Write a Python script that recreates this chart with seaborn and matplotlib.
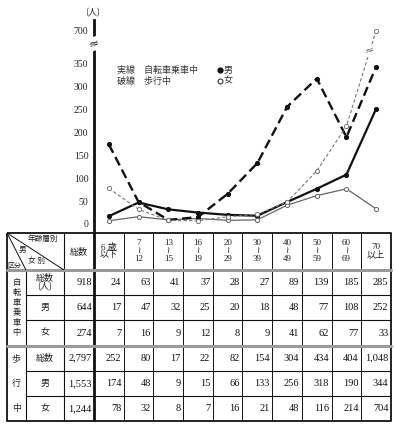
import numpy as np
import pandas as pd
import matplotlib
matplotlib.use("Agg")
import matplotlib.pyplot as plt
import matplotlib.transforms as mtransforms
import seaborn as sns

age_labels = ["6 歳\n以下", "7\n≀\n12", "13\n≀\n15", "16\n≀\n19", "20\n≀\n29",
              "30\n≀\n39", "40\n≀\n49", "50\n≀\n59", "60\n≀\n69", "70\n以上"]

bike_total = [24, 63, 41, 37, 28, 27, 89, 139, 185, 285]
bike_male = [17, 47, 32, 25, 20, 18, 48, 77, 108, 252]
bike_female = [7, 16, 9, 12, 8, 9, 41, 62, 77, 33]
walk_total = [252, 80, 17, 22, 82, 154, 304, 434, 404, 1048]
walk_male = [174, 48, 9, 15, 66, 133, 256, 318, 190, 344]
walk_female = [78, 32, 8, 7, 16, 21, 48, 116, 214, 704]

sum_labels = ["918", "644", "274", "2,797", "1,553", "1,244"]
row_labels = ["総数\n(人)", "男", "女", "総数", "男", "女"]
y_ticks = [0, 50, 100, 150, 200, 250, 300, 350, 700]


def fwd(v):
    v = np.asarray(v, dtype=float)
    return np.where(v <= 380, v, 380 + (v - 380) * 0.132)


def inv(u):
    u = np.asarray(u, dtype=float)
    return np.where(u <= 380, u, 380 + (u - 380) / 0.132)


sns.set_style("white")
plt.rcParams["font.family"] = ["Liberation Serif", "Noto Sans CJK JP", "DejaVu Sans"]

W, H = 394, 428
fig = plt.figure(figsize=(W / 100, H / 100), dpi=100)

# full-figure pixel canvas for the table
cv = fig.add_axes([0, 0, 1, 1], zorder=0)
cv.set_xlim(0, W)
cv.set_ylim(H, 0)
cv.axis("off")

# chart axes, aligned with the age columns of the table
ax_l, ax_r, ax_t, ax_b = 94, 391, 20, 232
ax = fig.add_axes([ax_l / W, (H - ax_b) / H, (ax_r - ax_l) / W, (ax_b - ax_t) / H], zorder=2)
ax.set_facecolor("none")
ax.set_yscale("function", functions=(fwd, inv))

series = [
    (bike_male, dict(color="#111111", linewidth=1.6, linestyle="-", markerfacecolor="#111111")),
    (bike_female, dict(color="#666666", linewidth=0.9, linestyle="-", markerfacecolor="white")),
    (walk_male, dict(color="#111111", linewidth=1.7, linestyle=(0, (4, 2)), markerfacecolor="#111111")),
    (walk_female, dict(color="#777777", linewidth=0.8, linestyle=(0, (3, 2)), markerfacecolor="white")),
]
x_idx = np.arange(len(age_labels))
for vals, kw in series:
    df = pd.DataFrame({"age": x_idx, "count": vals})
    sns.lineplot(data=df, x="age", y="count", ax=ax, marker="o", markersize=3,
                 markeredgecolor=kw["color"], markeredgewidth=0.7, **kw)

ax.set_xlim(-0.5, len(age_labels) - 0.5)
ax.set_ylim(-17.5, float(inv(446)))
ax.set(xlabel="", ylabel="")
ax.set_xticks([])
ax.set_yticks(y_ticks)
ax.set_yticklabels([str(t) for t in y_ticks])
ax.yaxis.set_minor_locator(matplotlib.ticker.NullLocator())
ax.tick_params(axis="y", length=3, width=0.8, pad=1, labelsize=7, color="#222222")
for s in ["top", "right", "bottom"]:
    ax.spines[s].set_visible(False)
ax.spines["left"].set_linewidth(2)
ax.spines["left"].set_color("#111111")

# axis break and line break marks
bt = mtransforms.blended_transform_factory(ax.transAxes, ax.transData)
ax.text(0, float(inv(394)), "≈", transform=bt, ha="center", va="center", fontsize=9,
        family="DejaVu Sans", rotation=20, zorder=5,
        bbox=dict(facecolor="white", edgecolor="none", pad=0.2))
u0, u1 = float(fwd(walk_female[8])), float(fwd(walk_female[9]))
ax.text(8.79, float(inv(u0 + 0.79 * (u1 - u0))), "≈", ha="center", va="center", fontsize=8,
        family="DejaVu Sans", rotation=20, color="#555555", zorder=5,
        bbox=dict(facecolor="white", edgecolor="none", pad=0.1))

cv.text(93, 13, "(人)", ha="center", va="center", fontsize=6.5, family="Noto Sans CJK JP")

# legend as text
lg = dict(fontsize=6.5, family="Noto Sans CJK JP", color="#333333", va="center")
cv.text(117, 70, "実線　自転車乗車中", **lg)
cv.text(117, 81, "破線　歩行中", **lg)
cv.plot([220], [70], marker="o", markersize=3.5, color="#111111")
cv.plot([220], [81], marker="o", markersize=3.5, markerfacecolor="white",
        markeredgecolor="#333333", markeredgewidth=0.8)
cv.text(224, 70, "男", **lg)
cv.text(224, 81, "女", **lg)

# --- table ---
t_top, t_head, t_bot = 233, 270, 421.2
t_left = 7
n_rows = len(row_labels)
rh = (t_bot - t_head) / n_rows
cw = (ax_r - ax_l) / len(age_labels)
row_y = [t_head + rh * k for k in range(n_rows + 1)]
col_x = [ax_l + cw * i for i in range(len(age_labels) + 1)]

lk = dict(color="#111111", solid_capstyle="butt")
cv.plot([t_left, ax_r, ax_r, t_left, t_left], [t_top, t_top, t_bot, t_bot, t_top], lw=1.3, **lk)
cv.plot([64, 64], [t_top, t_bot], lw=0.8, **lk)
cv.plot([26, 26], [t_head, t_bot], lw=0.8, **lk)
cv.plot([ax_l, ax_l], [t_top, t_bot], lw=2, **lk)
for x in col_x[1:-1]:
    cv.plot([x, x], [t_top, t_bot], lw=0.7, **lk)
for k in [0, 3]:
    cv.plot([t_left, ax_r], [row_y[k], row_y[k]], lw=2.2, color="#9a9a9a")
for k in [1, 2, 4, 5]:
    cv.plot([26, ax_r], [row_y[k], row_y[k]], lw=0.8, **lk)
cv.plot([t_left, 64], [t_top, t_head], lw=0.7, **lk)
cv.plot([t_left, 26], [t_top, t_head], lw=0.7, **lk)

jp = dict(family="Noto Sans CJK JP", color="#222222")
cv.text(43, 239, "年齢層別", ha="center", va="center", fontsize=5.5, **jp)
cv.text(22, 250, "男", ha="center", va="center", fontsize=5.5, **jp)
cv.text(37, 261, "女 別", ha="center", va="center", fontsize=5.5, **jp)
cv.text(14, 266, "区分", ha="center", va="center", fontsize=5, **jp)
cv.text(79, 252, "総数", ha="center", va="center", fontsize=6.5, **jp)

for i, lab in enumerate(age_labels):
    cv.text((col_x[i] + col_x[i + 1]) / 2, 251, lab, ha="center", va="center",
            fontsize=6.5, linespacing=0.95, color="#222222")

cv.text(16.5, (row_y[0] + row_y[3]) / 2, "自\n転\n車\n乗\n車\n中", ha="center", va="center",
        fontsize=6, linespacing=1.15, **jp)
for k, ch in zip([3, 4, 5], ["歩", "行", "中"]):
    cv.text(16.5, (row_y[k] + row_y[k + 1]) / 2, ch, ha="center", va="center", fontsize=6.5, **jp)

table_rows = [bike_total, bike_male, bike_female, walk_total, walk_male, walk_female]
for k in range(n_rows):
    yc = (row_y[k] + row_y[k + 1]) / 2
    cv.text(45, yc, row_labels[k], ha="center", va="center", fontsize=6.5, linespacing=0.9, **jp)
    cv.text(92, yc, sum_labels[k], ha="right", va="center", fontsize=7.5, color="#111111")
    for i, v in enumerate(table_rows[k]):
        cv.text(col_x[i + 1] - 2.5, yc, f"{v:,}", ha="right", va="center",
                fontsize=7.5, color="#111111")

fig.savefig("out.png", dpi=100)
